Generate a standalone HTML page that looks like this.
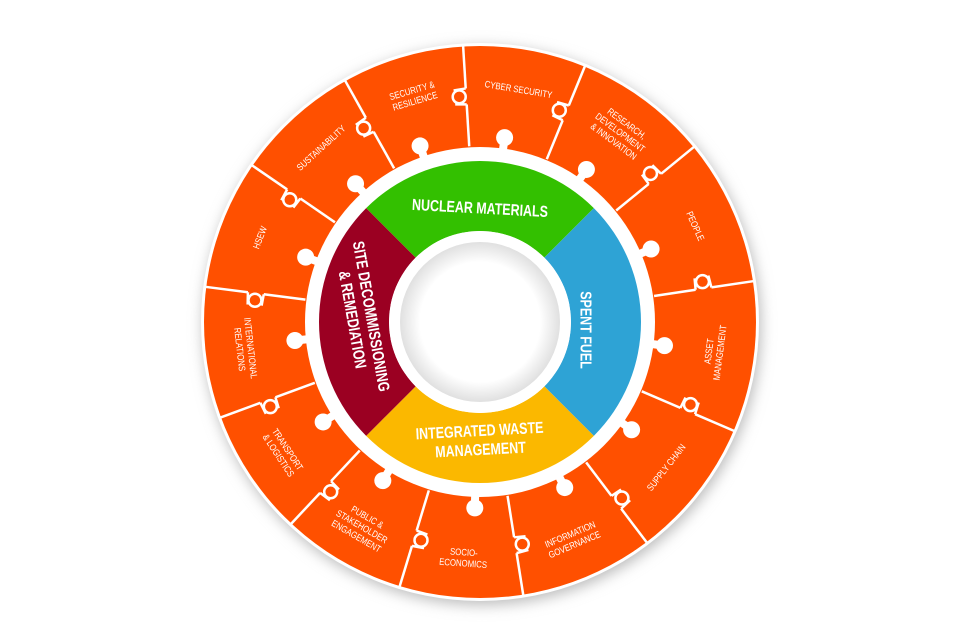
<!DOCTYPE html>
<html><head><meta charset="utf-8"><style>
html,body{margin:0;padding:0;background:#fff;width:960px;height:640px;overflow:hidden}
svg{display:block}
text{font-family:"Liberation Sans Narrow","Liberation Sans",sans-serif;fill:#fff}
</style></head><body>
<svg id="s" width="960" height="640" viewBox="0 0 960 640">
<defs>
<filter id="sh" x="-20%" y="-20%" width="140%" height="140%"><feGaussianBlur stdDeviation="7"/></filter>
<radialGradient id="cg" cx="50%" cy="50%" r="50%"><stop offset="0.75" stop-color="#fff"/><stop offset="1" stop-color="#e0e0e0"/></radialGradient>
</defs>
<circle cx="482" cy="326" r="279" fill="#bbb" filter="url(#sh)"/>
<circle cx="480" cy="322" r="279" fill="#fff"/>
<circle cx="480" cy="322" r="276" fill="#ff5000"/>
<g id="dyn"></g>
</svg>
<script>
var CX=480,CY=322,NS="http://www.w3.org/2000/svg",g=document.getElementById("dyn");
function P(b,r){var a=b*Math.PI/180;return [CX+r*Math.sin(a),CY-r*Math.cos(a)];}
function el(t,at,txt){var e=document.createElementNS(NS,t);for(var k in at)e.setAttribute(k,at[k]);if(txt)e.textContent=txt;g.appendChild(e);return e;}
function sector(b1,b2,r1,r2,fill){var a=P(b1,r2),b=P(b2,r2),c=P(b2,r1),d=P(b1,r1);
el("path",{d:"M"+a+"A"+r2+","+r2+" 0 0 1 "+b+"L"+c+"A"+r1+","+r1+" 0 0 0 "+d+"Z",fill:fill});}
var bd=[-3.5,22.3,50.7,81.5,113.2,142.9,171,196.9,223.1,249.8,277.3,304.5,330.8];
bd.forEach(function(b){
 var p1=P(b,176),p2=P(b,218),p3=P(b,234),p4=P(b,277);
 el("line",{x1:p1[0],y1:p1[1],x2:p2[0],y2:p2[1],stroke:"#fff","stroke-width":2.5});
 el("line",{x1:p3[0],y1:p3[1],x2:p4[0],y2:p4[1],stroke:"#fff","stroke-width":2.5});
 var a=(b-90)*Math.PI/180,m=P(b,226);var cx=m[0]+7*Math.sin(a),cy=m[1]-7*Math.cos(a);
 el("circle",{cx:cx,cy:cy,r:6.5,fill:"#ff5000",stroke:"#fff","stroke-width":2.5});
 el("line",{x1:p2[0],y1:p2[1],x2:P(b-3,219)[0],y2:P(b-3,219)[1],stroke:"#fff","stroke-width":2.5});
 el("line",{x1:p3[0],y1:p3[1],x2:P(b-3,233)[0],y2:P(b-3,233)[1],stroke:"#fff","stroke-width":2.5});
});
el("circle",{cx:CX,cy:CY,r:175,fill:"#fff"});
[-18.8,7.6,34.9,66.9,97.3,125.4,152.9,181.6,211.5,237.5,264.3,290.4,318].forEach(function(b){
 var p=P(b,186),q=P(b,172);
 el("line",{x1:q[0],y1:q[1],x2:p[0],y2:p[1],stroke:"#fff","stroke-width":8});
 el("circle",{cx:p[0],cy:p[1],r:8.5,fill:"#fff"});
});
sector(-45,45,91,161,"#33c000");
sector(45,135,91,161,"#2ea3d5");
sector(135,225,91,161,"#fbb800");
sector(225,315,91,161,"#9b0022");
el("circle",{cx:CX,cy:CY,r:91,fill:"#fff"});
el("circle",{cx:CX,cy:CY,r:80,fill:"url(#cg)"});
var labs=[[9.4,["CYBER SECURITY"]],[36.5,["RESEARCH,","DEVELOPMENT","& INNOVATION"]],[66,["PEOPLE"]],[97.3,["ASSET","MANAGEMENT"]],[128,["SUPPLY CHAIN"]],[157,["INFORMATION","GOVERNANCE"]],[184,["SOCIO-","ECONOMICS"]],[210,["PUBLIC &","STAKEHOLDER","ENGAGEMENT"]],[236.5,["TRANSPORT","& LOGISTICS"]],[263.5,["INTERNATIONAL","RELATIONS"]],[291,["HSEW"]],[317.6,["SUSTAINABILITY"]],[343.6,["SECURITY &","RESILIENCE"]]];
labs.forEach(function(l){var b=l[0],p=P(b,236),rot=(b>90&&b<270)?b-180:b;if(b>270)rot=b-360;
 var n=l[1].length;var t=el("text",{transform:"translate("+p[0]+","+p[1]+") rotate("+rot+") scale(0.82,1)","text-anchor":"middle","font-size":9.5});
 l[1].forEach(function(s,i){var ts=document.createElementNS(NS,"tspan");ts.setAttribute("x",0);ts.setAttribute("y",(i-(n-1)/2)*11+3.5);ts.textContent=s;t.appendChild(ts);});
});
function big(x,y,rot,lines){var n=lines.length;var t=el("text",{transform:"translate("+x+","+y+") rotate("+rot+") scale(0.78,1)","text-anchor":"middle","font-size":16,"font-weight":"bold"});
 lines.forEach(function(s,i){var ts=document.createElementNS(NS,"tspan");ts.setAttribute("x",0);ts.setAttribute("y",(i-(n-1)/2)*19+5.5);ts.textContent=s;t.appendChild(ts);});}
big(480,208,3,["NUCLEAR MATERIALS"]);
big(586,330,90,["SPENT FUEL"]);
big(362,318,80,["SITE DECOMMISSIONING","& REMEDIATION"]);
big(480,440,-3,["INTEGRATED WASTE","MANAGEMENT"]);
</script>
</body></html>
